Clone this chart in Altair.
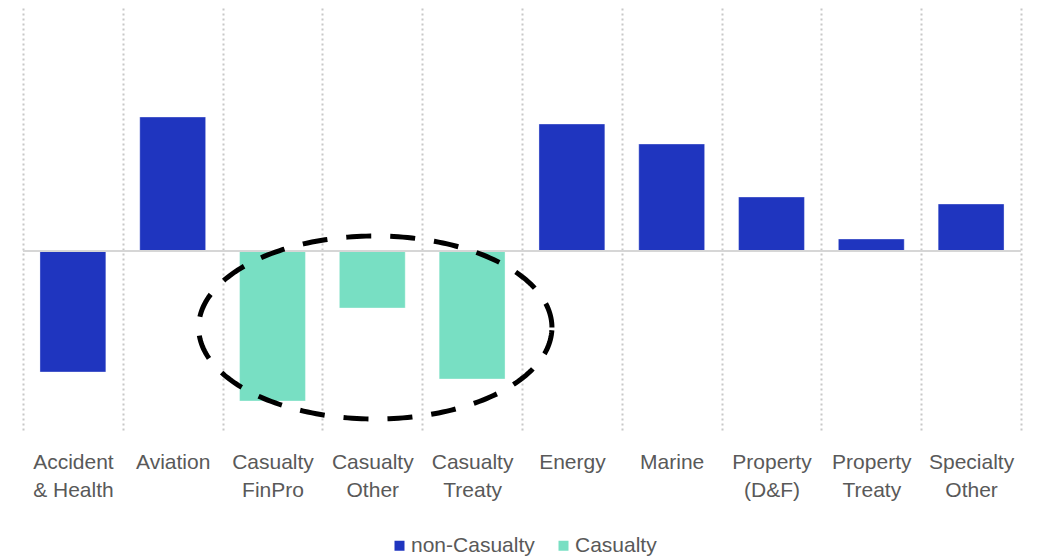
import altair as alt
import numpy as np
import pandas as pd

# Line-of-business changes (relative units)
categories = [
    "Accident\n& Health", "Aviation", "Casualty\nFinPro", "Casualty\nOther",
    "Casualty\nTreaty", "Energy", "Marine", "Property\n(D&F)", "Property\nTreaty",
    "Specialty\nOther",
]
values = [-12.1, 13.4, -15.0, -5.7, -12.8, 12.7, 10.7, 5.4, 1.2, 4.7]
groups = [
    "non-Casualty", "non-Casualty", "Casualty", "Casualty", "Casualty",
    "non-Casualty", "non-Casualty", "non-Casualty", "non-Casualty", "non-Casualty",
]

group_order = ["non-Casualty", "Casualty"]
group_colors = ["#1f35bf", "#78dfc3"]

Y_DOMAIN = [-17.9, 24.3]
FONT = "Liberation Sans"
TEXT = "#595959"

bars_df = pd.DataFrame({"category": categories, "value": values, "group": groups})

# dashed ellipse highlighting the casualty lines (x in band units, y in value units)
t = np.linspace(0, 2 * np.pi, 241)
cx, rx = 3.53, 1.77
cy, ry = -7.65, 9.15
ellipse_df = pd.DataFrame({
    "t": np.arange(len(t)),
    "ex": cx + rx * np.cos(t),
    "value": cy + ry * np.sin(t),
})

y_scale = alt.Scale(domain=Y_DOMAIN, nice=False, zero=False)

bars = alt.Chart(bars_df).mark_bar(
    width=alt.RelativeBandSize(0.66), stroke="#ffffff", strokeOpacity=0.35, strokeWidth=1
).encode(
    x=alt.X(
        "category:N",
        sort=None,
        title=None,
        scale=alt.Scale(paddingInner=0, paddingOuter=0),
        axis=alt.Axis(
            labelExpr="split(datum.label, '\\n')",
            labelAngle=0,
            labelFont=FONT,
            labelFontSize=21,
            labelColor=TEXT,
            labelLineHeight=28,
            labelPadding=21,
            labelBaseline="top",
            domain=False,
            ticks=False,
            grid=True,
            tickBand="extent",
            gridColor="#c8c8c8",
            gridDash=[2, 3],
            gridWidth=2,
        ),
    ),
    y=alt.Y("value:Q", scale=y_scale, axis=None),
    color=alt.Color(
        "group:N",
        scale=alt.Scale(domain=group_order, range=group_colors),
        legend=alt.Legend(
            title=None,
            orient="none",
            direction="horizontal",
            legendX=366,
            legendY=527,
            symbolType="square",
            symbolSize=100,
            symbolStrokeWidth=0,
            labelFont=FONT,
            labelFontSize=21,
            labelColor=TEXT,
            labelOffset=1,
            columnPadding=18,
        ),
    ),
)

zero_line = alt.Chart(pd.DataFrame({"value": [0]})).mark_rule(
    color="#d6d6d6", strokeWidth=2
).encode(y=alt.Y("value:Q", scale=y_scale, axis=None))

ellipse = alt.Chart(ellipse_df).mark_line(
    color="#000000", strokeWidth=5, strokeDash=[25, 19], strokeCap="butt"
).encode(
    x=alt.X("ex:Q", scale=alt.Scale(domain=[0, 10], nice=False, zero=False), axis=None),
    y=alt.Y("value:Q", scale=y_scale, axis=None),
    order="t:Q",
)

chart = (
    alt.layer(bars, zero_line, ellipse)
    .resolve_scale(x="independent")
    .properties(
        width=998,
        height=422,
        padding={"left": 23, "top": 8, "right": 17, "bottom": 127},
        autosize=alt.AutoSizeParams(type="none"),
        view=alt.ViewBackground(stroke=None, strokeWidth=0),
    )
    .configure_view(stroke=None, strokeWidth=0)
    .configure_axis(domain=False)
    .configure(background="white")
)

chart.save("out.html", embed_options={"renderer": "svg", "actions": False})
